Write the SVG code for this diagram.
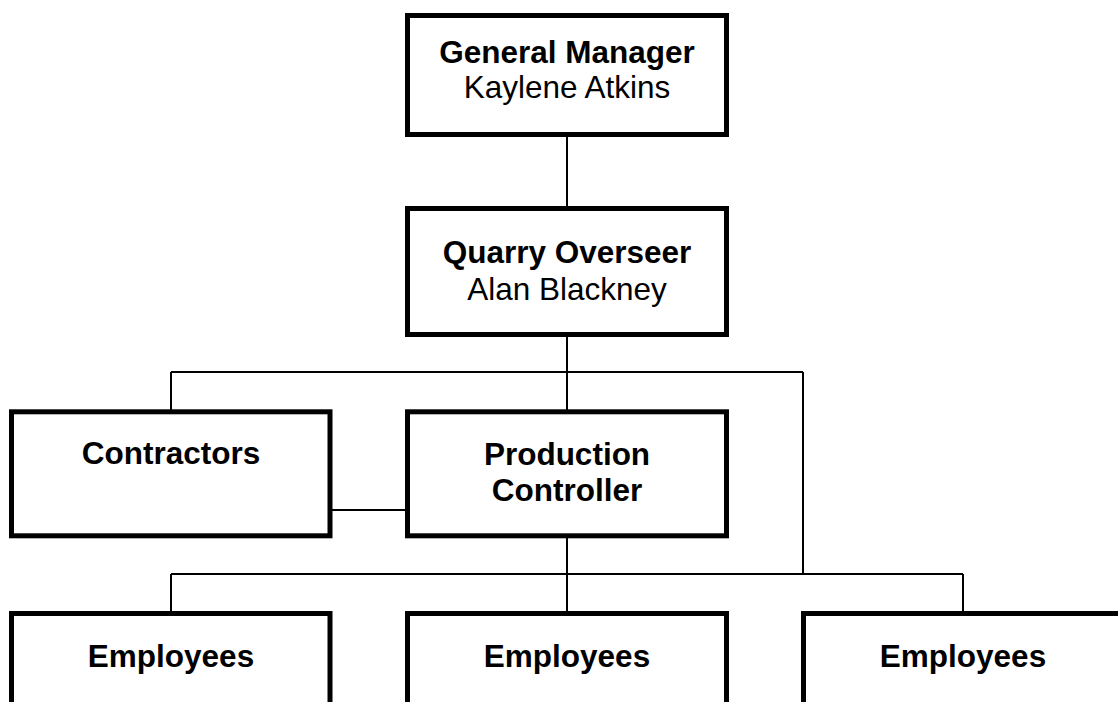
<svg xmlns="http://www.w3.org/2000/svg" width="1118" height="702" viewBox="0 0 1118 702">
<style>
.box{fill:#fff;stroke:#000;stroke-width:5}
.con{fill:none;stroke:#000;stroke-width:2}
text{font-family:"Liberation Sans",Arial,sans-serif;font-size:31.5px;fill:#000;text-anchor:middle}
.b{font-weight:bold}
</style>
<rect width="1118" height="702" fill="#fff"/>
<g id="connectors">
<path class="con" d="M567,137V207M567,336V410M567,537V612M171,372H803M171,372V410M803,372V574M171,574H963M171,574V612M963,574V612M332,510H406"/>
</g>
<g id="general-manager">
<rect class="box" x="407.5" y="15.5" width="319" height="119"/>
<text class="b" x="567" y="63">General Manager</text>
<text x="567" y="98">Kaylene Atkins</text>
</g>
<g id="quarry-overseer">
<rect class="box" x="407.5" y="208.5" width="319" height="126"/>
<text class="b" x="567" y="263">Quarry Overseer</text>
<text x="567" y="300">Alan Blackney</text>
</g>
<g id="contractors">
<rect class="box" x="11.5" y="411.8" width="318.5" height="124"/>
<text class="b" x="171" y="463.5">Contractors</text>
</g>
<g id="production-controller">
<rect class="box" x="407.5" y="411.8" width="319" height="124"/>
<text class="b" x="567" y="464.5">Production</text>
<text class="b" x="567" y="500.5">Controller</text>
</g>
<g id="employees-1">
<rect class="box" x="11.5" y="613.5" width="318.5" height="124"/>
<text class="b" x="171" y="666.5">Employees</text>
</g>
<g id="employees-2">
<rect class="box" x="407.5" y="613.5" width="319" height="124"/>
<text class="b" x="567" y="666.5">Employees</text>
</g>
<g id="employees-3">
<rect class="box" x="803.5" y="613.5" width="319" height="124"/>
<text class="b" x="963" y="666.5">Employees</text>
</g>
</svg>
